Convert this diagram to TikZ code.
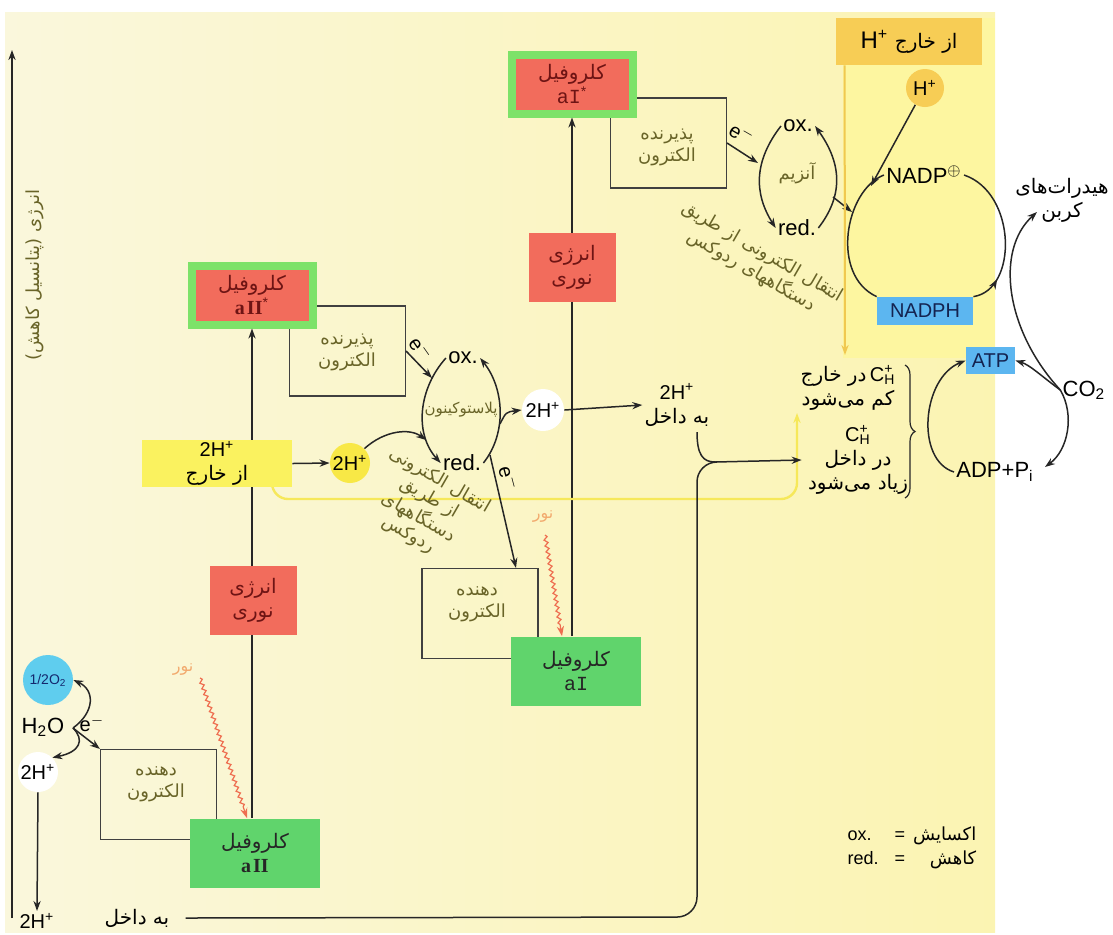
\documentclass[tikz,border=0pt]{standalone}
\usepackage{fontspec}
\setmainfont{Liberation Sans}
\newfontfamily\fa[Script=Arabic]{DejaVu Sans}
\newfontfamily\rmnum{Liberation Serif}
\newfontfamily\monum{Liberation Mono}
\TeXXeTstate=1
\usetikzlibrary{arrows.meta,calc,decorations.markings,decorations.pathmorphing,decorations.pathreplacing}

\newcommand{\pers}[1]{{\fa\beginR#1\endR}}
\newcommand{\hpl}{\textsuperscript{+}}

\definecolor{bgcream}{RGB}{250,247,220}
\definecolor{bgyellow}{RGB}{251,244,178}
\definecolor{panelyel}{RGB}{253,246,160}
\definecolor{boxred}{RGB}{242,108,92}
\definecolor{rimgreen}{RGB}{125,226,105}
\definecolor{boxgreen}{RGB}{96,212,108}
\definecolor{redtxt}{RGB}{110,20,20}
\definecolor{olivec}{RGB}{105,100,40}
\definecolor{hyellow}{RGB}{250,242,95}
\definecolor{cyellow}{RGB}{248,232,70}
\definecolor{hgold}{RGB}{247,205,85}
\definecolor{o2cyan}{RGB}{95,205,238}
\definecolor{o2blue}{RGB}{20,40,110}
\definecolor{nblue}{RGB}{92,182,240}
\definecolor{ntxt}{RGB}{20,35,80}
\definecolor{ylinec}{RGB}{246,232,90}
\definecolor{olinec}{RGB}{240,200,80}
\definecolor{waver}{RGB}{238,110,80}
\definecolor{lightlbl}{RGB}{242,170,110}

\tikzset{
  flow/.style={draw=black!85, line width=0.75pt},
  outbox/.style={draw=black!75, line width=0.55pt, minimum width=58pt, minimum height=45pt, inner sep=0pt},
  olv/.style={text=olivec, align=center, font=\fontsize{9}{11}\selectfont},
  starbox/.style={draw=rimgreen, line width=4pt, fill=boxred, text=redtxt, minimum width=60.5pt, minimum height=29.5pt, align=center, inner sep=0pt},
  lightbox/.style={fill=boxred, text=redtxt, minimum width=43.5pt, minimum height=34.5pt, align=center, inner sep=0pt},
  chlbox/.style={fill=boxgreen, text=black!85, minimum width=65pt, minimum height=34.5pt, align=center, inner sep=0pt},
  hcirc/.style={circle, inner sep=0pt, minimum size=20pt},
  cyc/.style={font=\fontsize{11}{12}\selectfont, inner sep=1pt},
  bluebox/.style={fill=nblue, text=ntxt, inner sep=0pt},
  wave/.style={draw=waver, line width=0.6pt, decorate,
    decoration={snake, amplitude=0.9pt, segment length=3pt, post length=5pt}},
  elbl/.style={font=\fontsize{10}{12}\selectfont, inner sep=0pt},
  yline/.style={draw=ylinec, line width=1.2pt},
  oline/.style={draw=olinec, line width=1pt},
  midarrow/.style={postaction={decorate, decoration={markings, mark=at position #1 with {\arrow{>}}}}}
}

\begin{document}
\begin{tikzpicture}[x=0.5pt,y=-0.5pt,>={Stealth[length=5pt,width=3.6pt]},font=\fontsize{10}{12}\selectfont,inner sep=1pt]
  \useasboundingbox (0,0) rectangle (1113,934);
  % background
  \shade[left color=bgcream, right color=bgyellow] (5,12) rectangle (995,932);
  \fill[panelyel] (843,18) rectangle (995,358);

  % energy axis
  \coordinate (axbot) at (12,918);
  \coordinate (axtop) at (12,50);
  \draw[flow,->] (axbot) -- (axtop);
  \node[olv,rotate=90] (axlbl) at (35,275) {\pers{انرژی (پتانسیل کاهش)}};

  % acceptors and donors
  \node[outbox] (acc1) at (347.5,351) {};
  \node[olv] (acc1txt) at (347,352) {\pers{پذیرنده}\\\pers{الکترون}};
  \node[outbox] (acc2) at (668.5,143) {};
  \node[olv] (acc2txt) at (667,147) {\pers{پذیرنده}\\\pers{الکترون}};
  \node[outbox] (don1) at (158.5,794.5) {};
  \node[olv] (don1txt) at (156,784) {\pers{دهنده}\\\pers{الکترون}};
  \node[outbox] (don2) at (480,613.5) {};
  \node[olv] (don2txt) at (477,604) {\pers{دهنده}\\\pers{الکترون}};

  % chlorophylls
  \node[starbox] (aIIs) at (252,295) {\pers{کلروفیل}\\{\rmnum\bfseries a\kern1pt II}\textsuperscript{*}};
  \node[starbox] (aIs) at (572,84) {\pers{کلروفیل}\\{\monum aI}\textsuperscript{*}};
  \node[chlbox] (aII) at (255,853) {\pers{کلروفیل}\\{\rmnum\bfseries a\kern1pt II}};
  \node[chlbox] (aI) at (576,671) {\pers{کلروفیل}\\{\monum aI}};

  \draw[flow,->] (aIIs.south |- aII.north) -- (aIIs.south);
  \draw[flow,->] (aIs.south |- aI.north) -- (aIs.south);

  \node[lightbox] (light1) at (253,600) {\pers{انرژی}\\\pers{نوری}};
  \node[lightbox] (light2) at (572,267) {\pers{انرژی}\\\pers{نوری}};

  % light
  \draw[wave,->] (200,678) -- ([xshift=-4pt]aII.north);
  \node[text=lightlbl,font=\fontsize{8}{9}\selectfont] (lt1) at (183,670) {\pers{نور}};
  \draw[wave,->] (545,535) -- ([xshift=-7pt]aI.north);
  \node[text=lightlbl,font=\fontsize{8}{9}\selectfont] (lt2) at (543,517) {\pers{نور}};

  % protons from outside
  \draw[yline,rounded corners=8pt,->] (272,487) |- (797,499) -- (797,413);
  \node[fill=hyellow,minimum width=75pt,minimum height=23.5pt,align=center,inner sep=0pt] (hout) at (217,463.5) {2H\hpl\\\pers{از خارج}};
  \node[hcirc,fill=cyellow] (hin) at (350,463) {2H\hpl};
  \draw[flow,->] (hout.east) -- (hin.west);

  % plastoquinone
  \node[cyc] (pqox) at (463,358) {ox.};
  \node[cyc] (pqred) at (462,463) {red.};
  \node[olv,font=\fontsize{7.5}{9}\selectfont] (pqtxt) at (461,410) {\pers{پلاستوکینون}};
  \draw[flow,->] (pqox.west) .. controls +(-27,30) and +(-27,-30) .. (pqred.west);
  \draw[flow,->] (pqred.east) .. controls +(24,-30) and +(24,30) .. (pqox.east);
  \coordinate (pqin) at (432,378);
  \draw[flow,->] (acc1.east) -- (pqin);
  \node[elbl,rotate=-55] (e1) at (421,349) {e$^-$};
  \coordinate (pqleft) at (426,440);
  \draw[flow,->] (hin.north east) .. controls (385,430) and (410,428) .. (pqleft);
  \node[hcirc,fill=white,minimum size=21pt] (hmid) at (543,410) {2H\hpl};
  \coordinate (pqright) at (500,424);
  \draw[flow,->] (pqright) .. controls (506,412) .. (hmid.west);
  \node[align=center] (hto) at (677,405) {2H\hpl\\\pers{به داخل}};
  \draw[flow,->] (hmid.east) -- (hto.west);
  \coordinate (pqout) at (490,455);
  \draw[flow,->] (pqout) -- ([xshift=18pt]don2.north);
  \node[elbl,rotate=-75] (e2) at (509,478) {e$^-$};
  \node[olv,rotate=-30,font=\fontsize{9}{10}\selectfont] (redox1) at (424,508) {\pers{انتقال الکترونی}\\\pers{از طریق}\\\pers{دستگاههای}\\\pers{ردوکس}};

  % enzyme
  \node[cyc] (enzox) at (798,126) {ox.};
  \node[cyc] (enzred) at (797,228) {red.};
  \node[olv] (enztxt) at (797,173) {\pers{آنزیم}};
  \draw[flow,->] (enzox.west) .. controls +(-27,35) and +(-22,-35) .. (enzred.west);
  \draw[flow,->] (enzred.east) .. controls +(27,-35) and +(25,35) .. (enzox.east);
  \coordinate (enzin) at (758,163);
  \draw[flow,->] (acc2.east) -- (enzin);
  \node[elbl,rotate=-30] (e3) at (742,134) {e$^-$};
  \node[olv,rotate=-30] (redox2) at (757,262) {\pers{انتقال الکترونی از طریق}\\\pers{دستگاههای ردوکس}};

  % NADP cycle
  \node[fill=hgold,minimum width=73pt,minimum height=23.5pt,inner sep=0pt] (hbox) at (909,41.5) {\fontsize{12}{12}\selectfont H\hpl\ \pers{\fontsize{10}{12}\selectfont از خارج}};
  \node[hcirc,fill=hgold,minimum size=19pt] (hplus) at (925,88) {H\hpl};
  \node[cyc] (nadp) at (924,175) {NADP\textsuperscript{$\oplus$}};
  \node[bluebox,minimum width=48pt,minimum height=14pt] (nadph) at (925,311) {NADPH};
  \draw[flow] (nadp.west) .. controls (845,190) and (830,275) .. (nadph.north west);
  \draw[flow,midarrow=0.2] (nadph.north east) .. controls (1018,290) and (1017,193) .. (nadp.east);
  \coordinate (nadptop) at (871,186);
  \draw[flow,->] (hplus.240) -- (nadptop);
  \coordinate (enzout) at (833,197);
  \coordinate (nadpin) at (852,212);
  \draw[flow,->] (enzout) -- (nadpin);
  \coordinate (coutarr) at (845,355);
  \draw[oline,->] ([xshift=4.5pt]hbox.south west) -- (coutarr);

  % proton gradient
  \node[align=center,inner sep=0pt] (cout) at (848,388) {\pers{در خارج}\,C\rlap{\textsuperscript{+}}\textsubscript{H}\\\pers{کم می^^^^200cشود}};
  \node[align=center,inner sep=0pt] (cin) at (858,460) {C\rlap{\textsuperscript{+}}\textsubscript{H}\\\pers{در داخل}\\\pers{زیاد می^^^^200cشود}};
  \draw[flow,line width=0.6pt,decorate,decoration={brace,amplitude=5pt}] (905,365) -- (905,498);
  \node (bin) at (137,918) {\pers{به داخل}};
  \coordinate (hjoin) at (715,462);
  \draw[flow,rounded corners=10pt] ([xshift=7pt]bin.east) -- (697,917) -- (697,462) -- (hjoin);
  \draw[flow] (697,432) .. controls (697,455) and (703,462) .. (hjoin);
  \draw[flow,->] (hjoin) -- ([xshift=-3pt]cin.west);

  % ATP and carbon
  \node[bluebox,minimum width=24.5pt,minimum height=13.5pt] (atp) at (990.5,360.5) {ATP};
  \node[cyc] (adp) at (995,472) {ADP+P\textsubscript{i}};
  \node[cyc] (co2) at (1084,390) {CO\textsubscript{2}};
  \node[align=center] (carb) at (1062,200) {\pers{هیدرات^^^^200cهای}\\\pers{کربن}};
  \coordinate (carbin) at (1037,212);
  \coordinate (adpin) at (1045,467);
  \draw[flow,->] (adp.west) .. controls (915,460) and (922,378) .. (atp.west);
  \draw[flow,->] (co2.west) .. controls (1040,375) and (1030,365) .. (atp.east);
  \draw[flow,->] (co2.west) .. controls (1005,330) and (995,250) .. (carbin);
  \draw[flow,->] (co2.west) .. controls (1075,415) and (1068,450) .. (adpin);

  % water splitting
  \node[hcirc,fill=o2cyan,minimum size=25pt,text=o2blue,font=\fontsize{7}{8}\selectfont] (o2) at (48,680) {1/2O\textsubscript{2}};
  \node[cyc] (h2o) at (43,727) {H\textsubscript{2}O};
  \node[elbl] (e4) at (92,724) {e$^-$};
  \node[hcirc,fill=white] (hw) at (38,772) {2H\hpl};
  \node (hbot) at (37,921) {2H\hpl};
  \coordinate (split) at (73,728);
  \draw[flow,->] (split) .. controls (95,712) and (95,690) .. (o2.east);
  \draw[flow,->] (split) .. controls (85,740) and (80,752) .. (hw.north east);
  \draw[flow,->] (split) -- (don1.north west);
  \draw[flow,->] (hw.south) -- (hbot.north);

  % legend
  \node[font=\fontsize{9}{12}\selectfont] (lgd) at (912,848) {\begin{tabular}{@{}l@{\hspace{8pt}}c@{\hspace{4pt}}r@{}}ox. & = & \pers{اکسایش}\\ red. & = & \pers{کاهش}\end{tabular}};
\end{tikzpicture}
\end{document}
